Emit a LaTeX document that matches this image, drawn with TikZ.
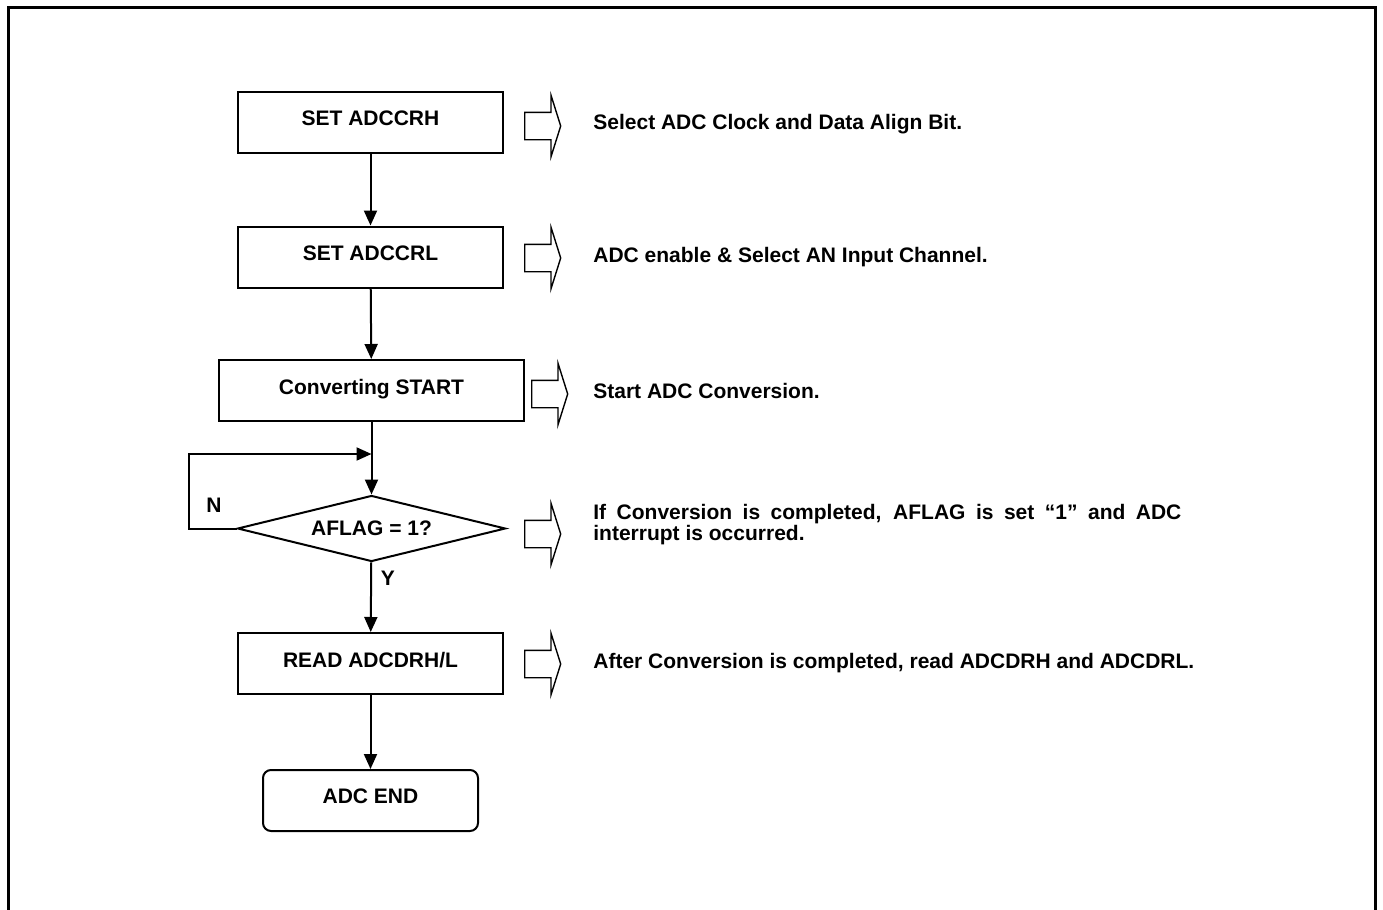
\documentclass[tikz,border=0pt]{standalone}
\usepackage{fontspec}
\setmainfont{Liberation Sans}
\usepackage{tikz}
\usetikzlibrary{positioning, arrows.meta, shapes.geometric, shapes.arrows}
\newcommand{\txt}{\fontsize{10.5}{13}\selectfont\bfseries}
\newcommand{\txtpar}{\fontsize{10.5}{10.5}\selectfont\bfseries\hyphenpenalty=10000\relax}

\begin{document}
\begin{tikzpicture}[x=0.5pt, y=-0.5pt,
    boite/.style={draw, line width=1pt, minimum width=132.5pt, minimum height=30.5pt,
      inner sep=0pt, text depth=4pt, font=\txt},
    fin/.style={boite, rounded corners=4pt, minimum width=107.5pt},
    losange/.style={draw, line width=1pt, diamond, aspect=4, inner sep=0pt,
      minimum width=134pt, minimum height=33pt, font=\txt},
    flux/.style={-{Triangle[length=7.5pt, width=6.5pt]}, line width=1pt},
    indic/.style={draw, line width=0.7pt, single arrow, single arrow tip angle=145,
      single arrow head extend=8.5pt, minimum height=18pt, inner xsep=0pt,
      inner ysep=6.5pt, anchor=tail},
    desc/.style={anchor=west, font=\txt, inner sep=0pt}]

  \useasboundingbox (0,0) rectangle (1383,910);
  \draw[line width=1.5pt] (8,910) -- (8,7) -- (1375,7) -- (1375,910);

  % --- organigramme ---
  \node[boite] (crh) at (370.5,122.5) {SET ADCCRH};
  \node[boite] (crl) at (370.5,257) {SET ADCCRL};
  \node[boite, minimum width=152.5pt] (start) at (371.5,390.5) {Converting START};
  \node[losange] (flag) at (371.5,528.5) {AFLAG = 1?};
  \node[boite] (drh) at (370.5,663.5) {READ ADCDRH/L};
  \node[fin] (fin) at (370.5,800.5) {ADC END};

  \draw[flux] (crh) -- (crl);
  \draw[flux] (crl) -- (start);
  \draw[flux] (start) -- (flag);
  \draw[flux] (flag) -- (drh);
  \draw[flux] (drh) -- (fin);

  % --- boucle N ---
  \coordinate (coin) at (189,454);
  \coordinate (retour) at (start.south |- coin);
  \draw[flux] (flag.west) -| (coin) -- (retour);
  \node[font=\txt] (n) at (214,505) {N};
  \node[font=\txt] (y) at (388,578) {Y};

  % --- commentaires ---
  \node[indic] (i1) at (524,126) {};
  \node[indic] (i2) at (524,258) {};
  \node[indic] (i3) at (531,394) {};
  \node[indic] (i4) at (524,534) {};
  \node[indic] (i5) at (524,664) {};

  \node[desc] (d1) at (593,124) {Select ADC Clock and Data Align Bit.};
  \node[desc] (d2) at (593,257) {ADC enable \& Select AN Input Channel.};
  \node[desc] (d3) at (593,391) {Start ADC Conversion.};
  \node[desc, text width=294pt, align=justify, font=\txtpar] (d4) at (593,525)
    {If Conversion is completed, AFLAG is set “1” and ADC interrupt is occurred.};
  \node[desc] (d5) at (593,663) {After Conversion is completed, read ADCDRH and ADCDRL.};
\end{tikzpicture}
\end{document}
